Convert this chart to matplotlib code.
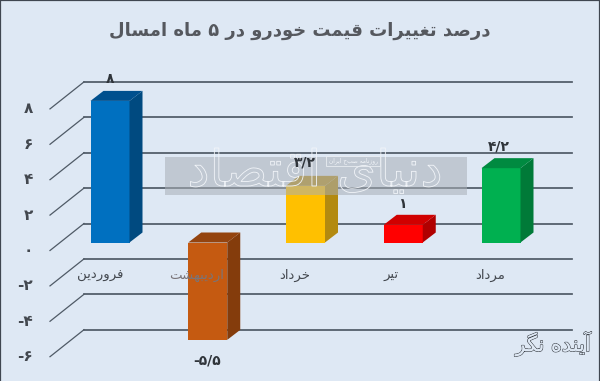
import matplotlib
matplotlib.use("Agg")
import matplotlib.pyplot as plt
from matplotlib.patches import Polygon, Rectangle
import matplotlib.patheffects as pe

# ---------- data ----------
categories = ["فروردین", "اردیبهشت", "خرداد", "تیر", "مرداد"]
values = [8, -5.5, 3.2, 1, 4.2]
value_labels = ["۸", "-۵/۵", "۳/۲", "۱", "۴/۲"]
tick_values = [8, 6, 4, 2, 0, -2, -4, -6]
tick_labels = ["۸", "۶", "۴", "۲", "۰", "-۲", "-۴", "-۶"]
title = "درصد تغییرات قیمت خودرو در ۵ ماه امسال"
watermark = "دنیای اقتصاد"
watermark_small = "روزنامه صبح ایران"
logo = "آینده نگر"

front_colors = ["#0070C0", "#C55A11", "#FFC000", "#FF0000", "#00B050"]
side_colors = ["#004A80", "#843C0C", "#B38A10", "#B00000", "#007A38"]
top_colors = ["#00508E", "#94440F", "#B8901A", "#D00000", "#008A40"]

BG = "#DEE8F4"
LINE = "#4F5A66"
TEXT = "#43484F"

# ---------- Persian shaping (matplotlib has no bidi / joining) ----------
# letter: (isolated, final, initial, medial); two-form letters do not join forward
FORMS = {
    "آ": (0xFE81, 0xFE82), "ا": (0xFE8D, 0xFE8E), "د": (0xFEA9, 0xFEAA),
    "ر": (0xFEAD, 0xFEAE), "ز": (0xFEAF, 0xFEB0), "و": (0xFEED, 0xFEEE),
    "ب": (0xFE8F, 0xFE90, 0xFE91, 0xFE92), "ت": (0xFE95, 0xFE96, 0xFE97, 0xFE98),
    "خ": (0xFEA5, 0xFEA6, 0xFEA7, 0xFEA8), "س": (0xFEB1, 0xFEB2, 0xFEB3, 0xFEB4),
    "ش": (0xFEB5, 0xFEB6, 0xFEB7, 0xFEB8), "ص": (0xFEB9, 0xFEBA, 0xFEBB, 0xFEBC),
    "غ": (0xFECD, 0xFECE, 0xFECF, 0xFED0), "ف": (0xFED1, 0xFED2, 0xFED3, 0xFED4),
    "ق": (0xFED5, 0xFED6, 0xFED7, 0xFED8), "ل": (0xFEDD, 0xFEDE, 0xFEDF, 0xFEE0),
    "م": (0xFEE1, 0xFEE2, 0xFEE3, 0xFEE4), "ن": (0xFEE5, 0xFEE6, 0xFEE7, 0xFEE8),
    "ه": (0xFEE9, 0xFEEA, 0xFEEB, 0xFEEC), "ی": (0xFBFC, 0xFBFD, 0xFBFE, 0xFBFF),
    "گ": (0xFB92, 0xFB93, 0xFB94, 0xFB95),
}


def shape(s):
    out = []
    for i, c in enumerate(s):
        f = FORMS.get(c)
        if f is None:
            out.append(c)
            continue
        prev = s[i - 1] if i else ""
        nxt = s[i + 1] if i + 1 < len(s) else ""
        joins_prev = prev in FORMS and len(FORMS[prev]) == 4
        joins_next = nxt in FORMS and len(f) == 4
        if joins_prev and joins_next:
            g = f[3]
        elif joins_prev:
            g = f[1]
        elif joins_next:
            g = f[2]
        else:
            g = f[0]
        out.append(chr(g))
    return "".join(reversed(out))


# ---------- figure: axes fill the canvas; scale is 97.75 px per category, 17.7 px per %
W, H = 600, 381
PX_X, PX_Y = 97.75, 17.7
X0, Y0 = 110.0, 242.5
plt.rcParams["font.family"] = ["DejaVu Sans"]
fig = plt.figure(figsize=(W / 100, H / 100), dpi=100, facecolor=BG)
ax = fig.add_axes([0, 0, 1, 1], facecolor=BG)
ax.set_xlim(-X0 / PX_X, (W - X0) / PX_X)
ax.set_ylim((Y0 - H) / PX_Y, Y0 / PX_Y)
ax.set_xticks([])
ax.set_yticks([])
for side, spine in ax.spines.items():
    spine.set_visible(side != "bottom")
    spine.set_color("#3F4650")
    spine.set_linewidth(1.6)


def dx(px):
    return px / PX_X


def dy(px):
    return px / PX_Y


# ---------- 3-D style grid: back wall + floor diagonal
wall_left, wall_right = dx(84 - X0), dx(572 - X0)
front_left = dx(50 - X0)
wall_up, floor_down = dy(19), dy(8)
for v in tick_values:
    ax.plot([front_left, wall_left], [v - floor_down, v + wall_up],
            color=LINE, lw=0.9, zorder=1)
    ax.plot([wall_left, wall_right], [v + wall_up, v + wall_up],
            color=LINE, lw=1.25, zorder=1)

# ---------- bars
xpos = list(range(len(values)))
width = dx(39)
depth_x, depth_y = dx(13), dy(10)
ax.bar(xpos, values, width=width, color=front_colors, zorder=3, linewidth=0)
for x, v, cs, ct in zip(xpos, values, side_colors, top_colors):
    l, r = x - width / 2, x + width / 2
    hi = max(v, 0)
    lo = min(v, 0)
    ax.add_patch(Polygon([(r, lo), (r + depth_x, lo + depth_y),
                          (r + depth_x, hi + depth_y), (r, hi)],
                         closed=True, facecolor=cs, edgecolor="none", zorder=3))
    ax.add_patch(Polygon([(l, hi), (l + depth_x, hi + depth_y),
                          (r + depth_x, hi + depth_y), (r, hi)],
                         closed=True, facecolor=ct, edgecolor="none", zorder=3))

# ---------- watermark band and outlined names
ax.add_patch(Rectangle((dx(165 - X0), (Y0 - 195) / PX_Y), dx(302), dy(38),
                       facecolor="#A9AFB6", alpha=0.55, edgecolor="none", zorder=4))
ax.text(dx(315 - X0), (Y0 - 172) / PX_Y, shape(watermark), fontsize=36, ha="center",
        va="center", color="none", zorder=4.5,
        path_effects=[pe.withStroke(linewidth=0.6, foreground="#F2F5F9")])
ax.text(dx(353 - X0), (Y0 - 161) / PX_Y, shape(watermark_small), fontsize=4.2, ha="center",
        va="center", color="#F2F5F9", zorder=4.6,
        bbox=dict(boxstyle="square,pad=0.35", facecolor="none", edgecolor="#E8ECF1", lw=0.6))

# ---------- text
ax.text(dx(300 - X0), (Y0 - 31) / PX_Y, shape(title), fontsize=13, fontweight="bold",
        ha="center", va="center", color="#55585E", zorder=6)

label_x = [100, 197, 295, 391, 490]
for px, c in zip(label_x, categories):
    ax.text(dx(px - X0), (Y0 - 275) / PX_Y, shape(c), fontsize=9.5, ha="center", va="center",
            color="#7A7478" if c == "اردیبهشت" else TEXT, zorder=5)

val_px = [(110, 79), (207, 360), (305, 162), (402, 204), (499, 146)]
for (px, py), t in zip(val_px, value_labels):
    ax.text(dx(px - X0), (Y0 - py) / PX_Y, t, fontsize=10, fontweight="bold", ha="center",
            va="center", color="#2F343A", zorder=6)

tick_x = dx(33 - X0)
for v, t in zip(tick_values, tick_labels):
    ax.text(tick_x, v - dy(8), t, fontsize=11, fontweight="bold", ha="right", va="center",
            color=TEXT, zorder=6)

# ---------- logo
ax.text(dx(553 - X0), (Y0 - 344) / PX_Y, shape(logo), fontsize=15, ha="center", va="center",
        color=BG, zorder=6,
        path_effects=[pe.withStroke(linewidth=1.0, foreground="#3A3F46"),
                      pe.Normal()])

fig.savefig("out.png", dpi=100, facecolor=BG)
